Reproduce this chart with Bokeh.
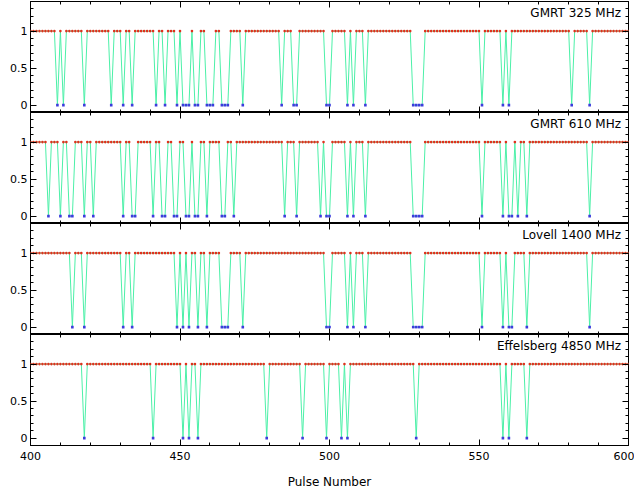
from bokeh.plotting import figure
from bokeh.layouts import column
from bokeh.models import (Range1d, FixedTicker, LinearAxis, Label, ColumnDataSource,
                          CustomJSTickFormatter)
from bokeh.embed import file_html
from bokeh.resources import INLINE

# ---------------- data ----------------
pulse_first = 400
pulse_last = 600
x_ticks = [400, 450, 500, 550, 600]
x_minor = list(range(400, 601, 10))
y_ticks = [0, 0.5, 1]
y_minor = [-0.1, 0.0, 0.1, 0.2, 0.3, 0.4, 0.5, 0.6, 0.7, 0.8, 0.9, 1.0, 1.1, 1.2, 1.3, 1.4]

telescopes = ["GMRT 325 MHz", "GMRT 610 MHz", "Lovell 1400 MHz", "Effelsberg 4850 MHz"]

nulls_gmrt325 = [409, 411, 418, 427, 431, 434, 442, 445, 449, 451, 452, 453, 455, 456,
                 459, 460, 461, 464, 465, 466, 471, 484, 488, 489, 499, 500, 506, 508,
                 512, 528, 529, 530, 531, 551, 558, 560, 581, 587]
nulls_gmrt610 = [406, 410, 413, 414, 418, 421, 431, 434, 435, 441, 444, 445, 448, 449,
                 452, 453, 455, 456, 459, 464, 465, 468, 485, 489, 497, 499, 500, 506,
                 508, 512, 528, 529, 530, 531, 551, 558, 560, 561, 563, 566, 587]
nulls_lovell1400 = [414, 418, 431, 434, 449, 451, 453, 456, 459, 464, 465, 466, 471,
                    499, 500, 506, 508, 512, 528, 529, 530, 531, 551, 558, 560, 561,
                    566, 587]
nulls_eff4850 = [418, 441, 451, 453, 456, 479, 491, 499, 504, 506, 529, 558, 560, 566]

all_nulls = [nulls_gmrt325, nulls_gmrt610, nulls_lovell1400, nulls_eff4850]

# ---------------- style ----------------
FONT = "DejaVu Sans"
LINE_COLOR = "#4cf0a8"
ON_COLOR = "#e0301c"
OFF_COLOR = "#3c3cdc"

xr = Range1d(pulse_first, pulse_last)


def style_axis(ax, show_labels):
    ax.axis_line_color = None
    ax.major_tick_in = 6
    ax.major_tick_out = 0
    ax.minor_tick_in = 3
    ax.minor_tick_out = 0
    ax.major_tick_line_color = "black"
    ax.minor_tick_line_color = "black"
    ax.major_label_text_font = FONT
    ax.major_label_text_color = "black"
    ax.major_label_text_font_size = "11px"
    if not show_labels:
        ax.formatter = CustomJSTickFormatter(code="return ''")
        ax.major_label_standoff = 0
    else:
        ax.major_label_standoff = 6


figs = []
n = len(telescopes)
for i, (name, nulls) in enumerate(zip(telescopes, all_nulls)):
    first = i == 0
    last = i == n - 1
    pulses = list(range(pulse_first, pulse_last + 1))
    states = [0 if k in nulls else 1 for k in pulses]
    src = ColumnDataSource(dict(pulse=pulses, state=states))
    on_src = ColumnDataSource(dict(pulse=[k for k, s in zip(pulses, states) if s == 1],
                                   state=[s for s in states if s == 1]))
    off_src = ColumnDataSource(dict(pulse=[k for k, s in zip(pulses, states) if s == 0],
                                    state=[s for s in states if s == 0]))

    p = figure(frame_width=598, frame_height=111, x_range=xr,
               y_range=Range1d(-0.1, 1.4), x_axis_type=None, y_axis_type=None,
               output_backend="svg", toolbar_location=None,
               min_border_left=30, min_border_right=6,
               min_border_top=1 if first else 0,
               min_border_bottom=0)
    p.outline_line_color = "black"
    p.outline_line_width = 1
    p.background_fill_color = "white"
    p.border_fill_color = "white"

    xt = FixedTicker(ticks=x_ticks, minor_ticks=x_minor)
    yt = FixedTicker(ticks=y_ticks, minor_ticks=y_minor)

    left = LinearAxis(ticker=yt)
    style_axis(left, True)
    left.major_label_standoff = 3
    p.add_layout(left, "left")

    right = LinearAxis(ticker=yt)
    style_axis(right, False)
    p.add_layout(right, "right")

    top = LinearAxis(ticker=xt)
    style_axis(top, False)
    p.add_layout(top, "above")

    bottom = LinearAxis(ticker=xt)
    style_axis(bottom, last)
    if last:
        bottom.axis_label = "Pulse Number"
        bottom.axis_label_text_font = FONT
        bottom.axis_label_text_font_style = "normal"
        bottom.axis_label_text_font_size = "12px"
        bottom.axis_label_text_color = "black"
        bottom.axis_label_standoff = 12
    p.add_layout(bottom, "below")

    p.line("pulse", "state", source=src, line_color=LINE_COLOR, line_width=1)
    p.scatter("pulse", "state", source=on_src, marker="circle", size=2.6,
              fill_color=ON_COLOR, line_color=None)
    p.scatter("pulse", "state", source=off_src, marker="square", size=2.6,
              fill_color=OFF_COLOR, line_color=None)

    p.add_layout(Label(x=597.5, y=1.25, text=name, text_align="right",
                       text_baseline="middle", text_font=FONT,
                       text_font_size="12px", text_color="black"))
    figs.append(p)

layout = column(*figs, spacing=0)

with open("out.html", "w") as f:
    f.write(file_html(layout, INLINE))
